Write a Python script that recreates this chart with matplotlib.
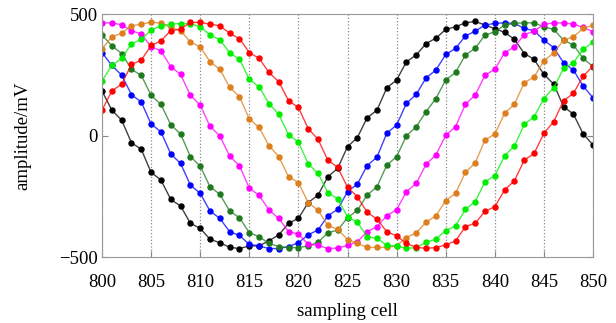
import numpy as np
import matplotlib.pyplot as plt

plt.rcParams['font.family'] = ['Liberation Serif', 'DejaVu Serif']

cells = np.arange(800, 851)

# amplitude (mV) per sampling cell, one channel per list
black = [184, 105, 64, -29, -56, -151, -182, -262, -289, -360,
         -381, -426, -440, -459, -464, -453, -453, -432, -408, -360,
         -340, -275, -244, -169, -134, -45, -8, 74, 105, 197,
         229, 304, 332, 379, 401, 437, 448, 464, 470, 455,
         440, 425, 396, 338, 314, 252, 212, 119, 89, 7, -38]
blue = [342, 289, 249, 169, 138, 48, 16, -75, -114, -203,
        -237, -310, -340, -395, -410, -447, -453, -464, -464, -456,
        -440, -407, -388, -329, -303, -230, -199, -123, -88, 10,
        44, 133, 170, 238, 270, 334, 359, 410, 430, 455,
        462, 464, 462, 441, 432, 393, 362, 300, 270, 204, 156]
dgreen = [414, 370, 338, 273, 248, 166, 129, 45, 7, -86,
          -125, -210, -241, -310, -337, -399, -415, -443, -456, -460,
          -460, -453, -438, -399, -388, -337, -307, -244, -210, -121,
          -86, 0, 37, 99, 153, 229, 260, 332, 359, 414,
          427, 455, 462, 464, 464, 448, 437, 393, 373, 318, 284]
magenta = [464, 464, 456, 432, 418, 366, 349, 284, 252, 166,
           126, 38, -1, -84, -123, -216, -245, -306, -340, -395,
           -404, -447, -451, -464, -462, -451, -436, -395, -374, -329,
           -304, -230, -196, -118, -79, 1, 37, 129, 167, 249,
           273, 341, 366, 416, 430, 458, 464, 464, 459, 445, 427]
orange = [356, 407, 421, 452, 459, 467, 463, 445, 432, 385,
          366, 304, 273, 199, 160, 69, 34, -41, -86, -169,
          -193, -275, -307, -369, -385, -427, -443, -459, -459, -459,
          -453, -419, -399, -356, -329, -267, -237, -151, -112, -18,
          7, 92, 130, 218, 242, 308, 341, 393, 407, 441, 455]
lime = [225, 289, 318, 378, 396, 434, 452, 459, 461, 461,
        448, 414, 395, 341, 314, 232, 201, 132, 88, 3,
        -26, -116, -155, -234, -260, -333, -356, -415, -422, -451,
        -453, -463, -460, -438, -426, -390, -371, -303, -271, -190,
        -164, -82, -42, 47, 78, 153, 197, 277, 300, 356, 384]
red = [105, 184, 212, 293, 311, 371, 390, 432, 438, 466,
       466, 459, 452, 421, 399, 342, 318, 260, 222, 144,
       116, 29, -15, -101, -130, -212, -251, -315, -343, -395,
       -412, -443, -459, -463, -460, -449, -433, -374, -360, -311,
       -292, -223, -185, -100, -73, 10, 58, 144, 174, 245, 286]

series = [
    (black, 'black'),
    (blue, '#0000ff'),
    (dgreen, '#1f7a1f'),
    (magenta, '#ff00ff'),
    (orange, '#dd7f1e'),
    (lime, '#00ee00'),
    (red, '#ff0000'),
]

fig = plt.figure(figsize=(6.16, 3.23), dpi=100)
ax = fig.add_axes([0.1656, 0.2034, 0.7971, 0.7529])

for vals, col in series:
    ax.plot(cells, vals, '-', color=col, lw=1.0, alpha=0.75)
    ax.plot(cells, vals, 'o', color=col, ms=3.6, mec=col)

ax.set_xlim(800, 850)
ax.set_ylim(-500, 500)
ax.set_xticks(np.arange(800, 851, 5))
ax.set_yticks([-500, 0, 500])
ax.grid(axis='x', linestyle=':', color='#888888', lw=0.9)
ax.tick_params(direction='in', length=4, right=True, labelsize=13.5,
               color='#888888')
ax.tick_params(axis='x', pad=12)
ax.tick_params(axis='y', pad=3)
for sp in ax.spines.values():
    sp.set_color('#999999')

ax.set_xlabel('sampling cell', fontsize=13.5, labelpad=9)
ax.set_ylabel('amplitude/mV', fontsize=13.5, labelpad=20)

fig.savefig('out.png', dpi=100)
